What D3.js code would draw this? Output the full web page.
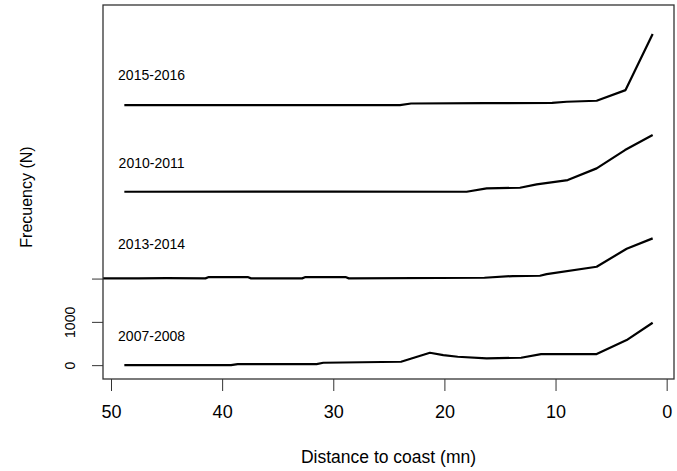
<!DOCTYPE html>
<html>
<head>
  <meta charset="utf-8">
  <title>Frecuency by distance to coast</title>
  <script src="https://cdn.jsdelivr.net/npm/d3@7/dist/d3.min.js"></script>
  <style>
    body { margin: 0; background: #ffffff; }
    text { font-family: "Liberation Sans", Arial, sans-serif; fill: #000; }
  </style>
</head>
<body>
  <svg id="chart" width="677" height="471"></svg>

  <script>
      // data: distance to coast (mn) and frequency (N) per season
      var seasons  = ["2007-2008", "2013-2014", "2010-2011", "2015-2016"];
      var offsets  = [0, 2000, 4000, 6000];          // each season is lifted above the previous one
      var labelY   = [673, 800, 677, 702];           // label height above the season's offset

      var dist0708 = [48.8, 39.2, 38.6, 31.5, 30.9, 23.9, 21.3, 20.1, 18.8, 16.2, 13.1, 11.3, 6.3, 3.6, 1.26];
      var freq0708 = [0, 0, 25, 25, 55, 79, 286, 233, 194, 157, 171, 256, 256, 580, 979];

      var dist1314 = [52.0, 47.5, 45.0, 41.5, 41.2, 37.7, 37.4, 32.8, 32.5, 28.9, 28.6, 16.4, 13.85, 11.4, 10.8, 6.3, 3.6, 1.26];
      var freq1314 = [5, 5, 10, 5, 35, 35, 5, 5, 35, 35, 5, 19, 58, 65, 104, 273, 689, 929];

      var dist1011 = [48.8, 30.0, 18.0, 16.2, 13.2, 11.7, 8.9, 6.3, 3.75, 1.26];
      var freq1011 = [6, 8, 6, 84, 98, 177, 276, 546, 969, 1315];

      var dist1516 = [48.8, 24.0, 23.0, 16.3, 10.3, 9.0, 6.3, 3.7, 1.26];
      var freq1516 = [8, 8, 45, 52, 60, 85, 108, 354, 1648];

      var distList = [dist0708, dist1314, dist1011, dist1516];
      var freqList = [freq0708, freq1314, freq1011, freq1516];

      var xTicks     = [50, 40, 30, 20, 10, 0];
      var yTicks     = [0, 1000, 2000];
      var yTickLabel = ["0", "1000", ""];

      var chart = d3.select("#chart");
      var margin = {top: 5, bottom: 92, left: 103, right: 3};
      var svgWidth  = 677;
      var svgHeight = 471;
      var plotRight  = svgWidth - margin.right;
      var plotBottom = svgHeight - margin.bottom;

      // R style: x axis reversed, 4% padding on both scales
      var xScale = d3.scaleLinear().domain([50.72, -0.66]).range([margin.left, plotRight]);
      var yScale = d3.scaleLinear().domain([-320, 8320]).range([plotBottom, margin.top]);

      chart.append("clipPath").attr("id", "plotClip")
           .append("rect").attr("x", margin.left).attr("y", margin.top)
           .attr("width", plotRight - margin.left).attr("height", plotBottom - margin.top);

      // series lines
      var line = d3.line().x(function(d) { return xScale(d[0]); }).y(function(d) { return yScale(d[1]); });
      for (var i = 0; i < seasons.length; i++) {
        var pts = distList[i].map(function(d, j) { return [d, freqList[i][j] + offsets[i]]; });
        chart.append("path").datum(pts)
             .attr("d", line)
             .attr("clip-path", "url(#plotClip)")
             .style("fill", "none").style("stroke", "#000").style("stroke-width", 2.2)
             .style("stroke-linejoin", "round");
        chart.append("text")
             .attr("x", xScale(46.35)).attr("y", yScale(offsets[i] + labelY[i]))
             .attr("dy", "0.35em")
             .style("text-anchor", "middle").style("font-size", "14px")
             .text(seasons[i]);
      }

      // x axis
      var xAxis = d3.axisBottom(xScale).tickValues(xTicks).tickSize(12).tickPadding(14)
                    .tickFormat(d3.format("d"));
      var gx = chart.append("g").attr("transform", "translate(0," + plotBottom + ")").call(xAxis);
      gx.select(".domain").remove();
      gx.selectAll("line").style("stroke", "#333");
      gx.selectAll("text").style("font-size", "18px").style("font-family", "Liberation Sans, Arial, sans-serif");

      // y axis (rotated labels like R's default)
      var yAxis = d3.axisLeft(yScale).tickValues(yTicks).tickSize(11)
                    .tickFormat(function(d, k) { return yTickLabel[k]; });
      var gy = chart.append("g").attr("transform", "translate(" + margin.left + ",0)").call(yAxis);
      gy.select(".domain").remove();
      gy.selectAll("line").style("stroke", "#333");
      gy.selectAll("text")
        .attr("x", null).attr("dy", null)
        .attr("transform", "translate(-28,0) rotate(-90)")
        .style("text-anchor", "middle").style("font-size", "14px")
        .style("font-family", "Liberation Sans, Arial, sans-serif");

      // plot box
      chart.append("rect")
           .attr("x", margin.left).attr("y", margin.top)
           .attr("width", plotRight - margin.left).attr("height", plotBottom - margin.top)
           .style("fill", "none").style("stroke", "#333").style("stroke-width", 1.3);

      // axis titles
      chart.append("text")
           .attr("x", (margin.left + plotRight) / 2).attr("y", 463)
           .style("text-anchor", "middle").style("font-size", "17.5px")
           .text("Distance to coast (mn)");
      chart.append("text")
           .attr("transform", "translate(32," + 197 + ") rotate(-90)")
           .style("text-anchor", "middle").style("font-size", "16px")
           .text("Frecuency (N)");
  </script>
</body>
</html>
